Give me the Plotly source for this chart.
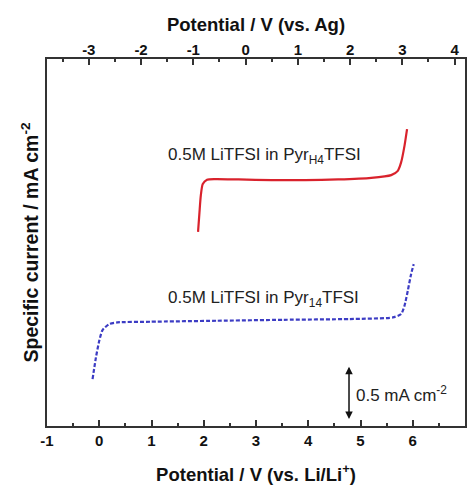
import plotly.graph_objects as go

# Linear sweep voltammetry, potential vs. Li/Li+ (V) and specific current (mA cm^-2, offset)
pyr_h4_potential = [1.891, 1.918, 1.943, 1.981, 2.063, 2.223, 2.667, 3.301, 3.937,
                    4.571, 5.206, 5.587, 5.714, 5.777, 5.842, 5.891]
pyr_h4_current = [1.798, 1.979, 2.132, 2.241, 2.281, 2.287, 2.284, 2.278, 2.278,
                  2.284, 2.299, 2.324, 2.364, 2.442, 2.595, 2.750]

pyr_14_potential = [-0.128, -0.063, 0.0, 0.063, 0.190, 0.349, 0.985, 2.253, 3.524,
                    4.794, 5.619, 5.777, 5.842, 5.905, 5.968, 6.019]
pyr_14_current = [0.435, 0.636, 0.790, 0.889, 0.944, 0.960, 0.966, 0.975, 0.984,
                  0.991, 1.006, 1.037, 1.114, 1.253, 1.407, 1.500]

# Ag quasi-reference sits 2.8 V above Li/Li+
ag_offset = 2.8
li_range = [-1, 7]
current_range = [0, 3.4]

li_ticks = [-1, 0, 1, 2, 3, 4, 5, 6, 7]
li_ticklabels = ["-1", "0", "1", "2", "3", "4", "5", "6", "7"]
ag_ticks = [-3, -2, -1, 0, 1, 2, 3, 4]
ag_ticklabels = ["-3", "-2", "-1", "0", "1", "2", "3", "4"]

# Scale bar: 0.5 mA cm^-2
scale_bar_x = 4.78
scale_bar_y = [0.05, 0.55]

fig = go.Figure()
fig.add_trace(go.Scatter(
    x=pyr_h4_potential, y=pyr_h4_current, mode="lines",
    line=dict(color="#d9222c", width=2.2, shape="spline", smoothing=0.6),
    showlegend=False, hoverinfo="skip"))
fig.add_trace(go.Scatter(
    x=pyr_14_potential, y=pyr_14_current, mode="lines",
    line=dict(color="#3c3cc4", width=2.2, dash="4px,2px", shape="spline", smoothing=0.6),
    showlegend=False, hoverinfo="skip"))
# Same Pyr_H4 sweep expressed vs. Ag, kept invisible so the top axis is drawn
fig.add_trace(go.Scatter(
    x=[v - ag_offset for v in pyr_h4_potential], y=pyr_h4_current, mode="lines",
    xaxis="x2", line=dict(width=0), opacity=0,
    showlegend=False, hoverinfo="skip"))

tick_font = dict(family="Liberation Sans, Arial", size=15, color="#111")
title_font = dict(family="Liberation Sans, Arial", size=18.5, color="#111")

fig.update_layout(
    width=468, height=485,
    margin=dict(l=47, r=1, t=59, b=58),
    paper_bgcolor="white", plot_bgcolor="white",
    font=dict(family="Liberation Sans, Arial", color="#111"),
    xaxis=dict(
        range=li_range, tickvals=li_ticks, ticktext=[f"<b>{t}</b>" for t in li_ticklabels],
        ticks="inside", ticklen=6, tickwidth=1.5, tickcolor="#333",
        minor=dict(dtick=0.5, tick0=0.5, ticks="inside", ticklen=3, tickwidth=1.5, tickcolor="#333"),
        showline=True, linecolor="#333", linewidth=2, mirror=True,
        showgrid=False, zeroline=False, tickfont=tick_font,
        title=dict(text="<b>Potential / V (vs. Li/Li<sup>+</sup>)</b>", font=title_font, standoff=22),
    ),
    xaxis2=dict(
        range=[li_range[0] - ag_offset, li_range[1] - ag_offset],
        tickvals=ag_ticks, ticktext=[f"<b>{t}</b>" for t in ag_ticklabels],
        overlaying="x", side="top", anchor="y",
        ticks="inside", ticklen=6, tickwidth=1.5, tickcolor="#333",
        minor=dict(dtick=0.5, tick0=0.5, ticks="inside", ticklen=3, tickwidth=1.5, tickcolor="#333"),
        showline=False, showgrid=False, zeroline=False, tickfont=tick_font,
        title=dict(text="<b>Potential / V (vs. Ag)</b>", font=title_font, standoff=4),
    ),
    yaxis=dict(
        range=current_range, showticklabels=False, ticks="",
        showline=True, linecolor="#333", linewidth=2, mirror=True,
        showgrid=False, zeroline=False,
        title=dict(text="<b>Specific current / mA cm<sup>-2</sup></b>",
                   font=dict(family="Liberation Sans, Arial", size=19.5, color="#111"), standoff=1),
    ),
)

label_font = dict(family="Liberation Sans, Arial", size=17, color="#222")
fig.add_annotation(x=3.17, y=2.5, xref="x", yref="y", showarrow=False,
                   text="0.5M LiTFSI in Pyr<sub>H4</sub>TFSI", font=label_font)
fig.add_annotation(x=3.14, y=1.176, xref="x", yref="y", showarrow=False,
                   text="0.5M LiTFSI in Pyr<sub>14</sub>TFSI", font=label_font)

# Double-headed scale arrow
fig.add_annotation(x=scale_bar_x, y=scale_bar_y[1], ax=scale_bar_x, ay=scale_bar_y[0],
                   xref="x", yref="y", axref="x", ayref="y", text="",
                   showarrow=True, arrowhead=2, startarrowhead=2, arrowside="end+start",
                   arrowsize=1, arrowwidth=1.5, arrowcolor="#111")
fig.add_annotation(x=scale_bar_x + 0.1, y=sum(scale_bar_y) / 2, xref="x", yref="y",
                   xanchor="left", showarrow=False,
                   text="0.5 mA cm<sup>-2</sup>", font=label_font)

fig.write_html("out.html")
